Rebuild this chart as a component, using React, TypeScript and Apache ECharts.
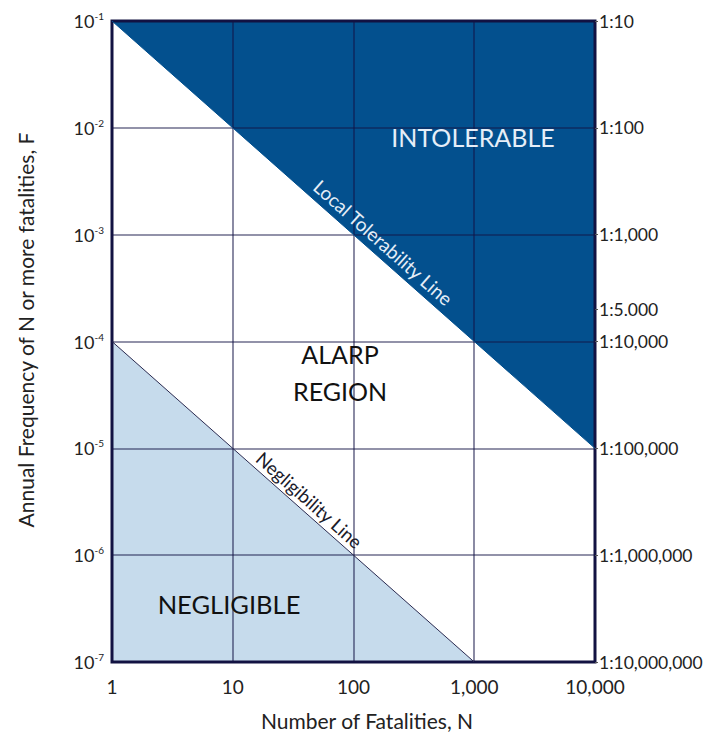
import React, { useEffect, useRef } from "react";
import * as echarts from "echarts";

const xTickValues = [1, 10, 100, 1000, 10000];
const xTickLabels = ["1", "10", "100", "1,000", "10,000"];
const rightTickValues = [1e-1, 1e-2, 1e-3, 2e-4, 1e-4, 1e-5, 1e-6, 1e-7];
const rightTickLabels = ["1:10", "1:100", "1:1,000", "1:5.000", "1:10,000", "1:100,000", "1:1,000,000", "1:10,000,000"];
const intolerableRegion = [[1, 1e-1], [10000, 1e-5], [10000, 1e-1]];
const negligibleRegion = [[1, 1e-4], [1000, 1e-7], [1, 1e-7]];
const tolerabilityLine = [[1, 1e-1], [10000, 1e-5]];
const negligibilityLine = [[1, 1e-4], [1000, 1e-7]];

const FONT = "Lato";
const DARK_BLUE = "#03508e";
const LIGHT_BLUE = "#c6dbec";

function polygonSeries(points: number[][], color: string) {
  return {
    type: "custom",
    z: -1,
    silent: true,
    data: points,
    encode: { x: 0, y: 1 },
    clip: false,
    renderItem: (params: any, api: any) => {
      if (params.dataIndex !== 0) return null;
      const pts = points.map((p) => api.coord(p));
      return { type: "polygon", shape: { points: pts }, style: { fill: color } };
    },
  };
}

export default function App() {
  const ref = useRef<HTMLDivElement>(null);
  useEffect(() => {
    const chart = echarts.init(ref.current!, undefined, { renderer: "svg" });
    const option: any = {
      animation: false,
      backgroundColor: "#ffffff",
      grid: {
        left: 112,
        right: 112,
        top: 21,
        bottom: 71,
        containLabel: false,
        outerBoundsMode: "none",
        show: true,
        borderColor: "#121240",
        borderWidth: 3,
        backgroundColor: "transparent",
      },
      xAxis: {
        type: "log",
        logBase: 10,
        min: 1,
        max: 10000,
        axisLine: { show: false },
        axisTick: { show: false },
        splitLine: { show: true, lineStyle: { color: "rgba(20,20,70,0.62)", width: 1.6 } },
        axisLabel: {
          margin: 15,
          fontFamily: FONT,
          fontSize: 19,
          color: "#222",
          formatter: (v: number) => {
            const i = xTickValues.findIndex((t) => Math.abs(Math.log10(t) - Math.log10(v)) < 1e-6);
            return i >= 0 ? xTickLabels[i] : "";
          },
        },
      },
      yAxis: [
        {
          type: "log",
          logBase: 10,
          min: 1e-7,
          max: 1e-1,
          axisLine: { show: false },
          axisTick: { show: false },
          splitLine: { show: true, lineStyle: { color: "rgba(20,20,70,0.62)", width: 1.6 } },
          axisLabel: {
            margin: 8,
            color: "#222",
            formatter: (v: number) => "{b|10}{s|" + Math.round(Math.log10(v)) + "}",
            rich: {
              b: { fontFamily: FONT, fontSize: 18, color: "#222", lineHeight: 20 },
              s: { fontFamily: FONT, fontSize: 10, color: "#222", lineHeight: 12, verticalAlign: "top" },
            },
          },
        },
        {
          type: "log",
          logBase: 10,
          min: 1e-7,
          max: 1e-1,
          position: "right",
          axisLine: { show: false },
          splitLine: { show: false },
          axisTick: { show: true, length: 3, inside: false, lineStyle: { color: "#555" }, customValues: rightTickValues },
          axisLabel: {
            margin: 4,
            fontFamily: FONT,
            fontSize: 17.5,
            color: "#222",
            customValues: rightTickValues,
            formatter: (v: number) => {
              let best = 0;
              let bd = Infinity;
              rightTickValues.forEach((t, i) => {
                const d = Math.abs(Math.log10(t) - Math.log10(v));
                if (d < bd) { bd = d; best = i; }
              });
              return rightTickLabels[best];
            },
          },
        },
      ],
      series: [
        polygonSeries(intolerableRegion, DARK_BLUE),
        polygonSeries(negligibleRegion, LIGHT_BLUE),
        {
          type: "line",
          data: negligibilityLine,
          symbol: "none",
          silent: true,
          lineStyle: { color: "#2a2a50", width: 1 },
          z: 3,
        },
        {
          type: "line",
          data: tolerabilityLine,
          symbol: "none",
          silent: true,
          lineStyle: { color: DARK_BLUE, width: 1 },
          z: 3,
        },
      ],
    };
    chart.setOption(option);

    const lineLabel = (pts: number[][], atN: number, offset: number, text: string, color: string, size: number) => {
      const a = chart.convertToPixel({ gridIndex: 0 }, pts[0]) as number[];
      const b = chart.convertToPixel({ gridIndex: 0 }, pts[1]) as number[];
      const dx = b[0] - a[0];
      const dy = b[1] - a[1];
      const len = Math.hypot(dx, dy);
      const ux = dx / len, uy = dy / len;
      const nx = uy, ny = -ux;
      const t = (Math.log10(atN) - Math.log10(pts[0][0])) / (Math.log10(pts[1][0]) - Math.log10(pts[0][0]));
      const px = a[0] + dx * t + nx * offset;
      const py = a[1] + dy * t + ny * offset;
      return {
        type: "text",
        x: px,
        y: py,
        rotation: -Math.atan2(dy, dx),
        style: { text, fill: color, font: `${size}px ${FONT}`, align: "center", verticalAlign: "middle" },
      };
    };

    chart.setOption({
      graphic: [
        lineLabel(tolerabilityLine, 148, 14, "Local Tolerability Line", "#e6eef8", 19),
        lineLabel(negligibilityLine, 37, 12, "Negligibility Line", "#1a1a2a", 18.5),
        { type: "text", x: 473, y: 137, style: { text: "INTOLERABLE", fill: "#e6eef8", font: `25px ${FONT}`, align: "center", verticalAlign: "middle" } },
        { type: "text", x: 340, y: 372, style: { text: "ALARP\nREGION", fill: "#111", font: `25px ${FONT}`, align: "center", verticalAlign: "middle", lineHeight: 37 } },
        { type: "text", x: 229, y: 604, style: { text: "NEGLIGIBLE", fill: "#111", font: `25.5px ${FONT}`, align: "center", verticalAlign: "middle" } },
        { type: "text", x: 367, y: 720, style: { text: "Number of Fatalities, N", fill: "#222", font: `21px ${FONT}`, align: "center", verticalAlign: "middle" } },
        { type: "text", x: 25, y: 330, rotation: Math.PI / 2, style: { text: "Annual Frequency of N or more fatalities, F", fill: "#222", font: `21px ${FONT}`, align: "center", verticalAlign: "middle" } },
      ],
    });

    return () => chart.dispose();
  }, []);
  return <div ref={ref} style={{ position: "absolute", left: 0, top: 0, width: 707, height: 733 }} />;
}
